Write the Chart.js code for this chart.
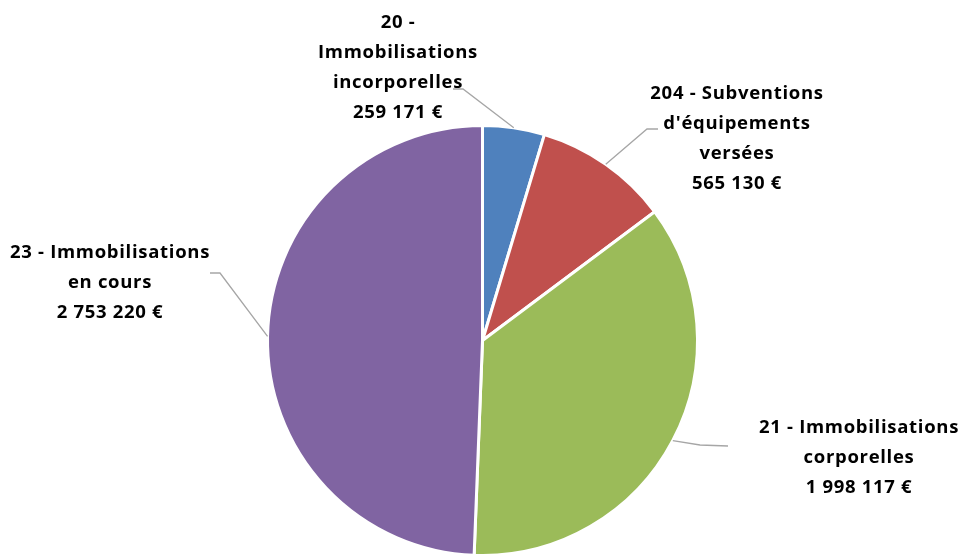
<!DOCTYPE html>
<html>
<head>
<meta charset="utf-8">
<script src="https://cdn.jsdelivr.net/npm/chart.js@4/dist/chart.umd.min.js"></script>
<style>
html,body{margin:0;padding:0;background:#fff;overflow:hidden;}
#wrap{width:963px;height:554px;position:relative;overflow:hidden;}
</style>
</head>
<body>
<div id="wrap"><canvas id="c" width="963" height="560"></canvas></div>
<script>
const categories = [
  ["20 -", "Immobilisations", "incorporelles"],
  ["204 - Subventions", "d'équipements", "versées"],
  ["21 - Immobilisations", "corporelles"],
  ["23 - Immobilisations", "en cours"]
];
const values = [259171, 565130, 1998117, 2753220];
const valueLabels = ["259 171 €", "565 130 €", "1 998 117 €", "2 753 220 €"];
const colors = ["#4F81BD", "#C0504D", "#9BBB59", "#8064A2"];

// label layout: text centre x, first line y; leader elbow and end
const labelLayout = [
  {x: 398, y: 23, elbow: [463, 89], end: [453, 89]},
  {x: 737, y: 94, elbow: [647, 129], end: [658, 129]},
  {x: 859, y: 428, elbow: [700, 445], end: [728, 446]},
  {x: 110, y: 253, elbow: [220, 273], end: [210, 273]}
];
const lineHeight = 30;

const labelPlugin = {
  id: 'outLabels',
  afterDatasetsDraw(chart) {
    const ctx = chart.ctx;
    const meta = chart.getDatasetMeta(0);
    ctx.save();
    meta.data.forEach((arc, i) => {
      const p = arc.getProps(['x','y','startAngle','endAngle','outerRadius'], true);
      const mid = (p.startAngle + p.endAngle) / 2;
      const ax = p.x + Math.cos(mid) * p.outerRadius;
      const ay = p.y + Math.sin(mid) * p.outerRadius;
      const L = labelLayout[i];
      ctx.strokeStyle = '#A6A6A6';
      ctx.lineWidth = 1.3;
      ctx.beginPath();
      ctx.moveTo(ax, ay);
      ctx.lineTo(L.elbow[0], L.elbow[1]);
      ctx.lineTo(L.end[0], L.end[1]);
      ctx.stroke();
      const lines = categories[i].concat([valueLabels[i]]);
      ctx.fillStyle = '#000';
      ctx.font = 'bold 18.5px "Open Sans", "Liberation Sans", Arial, sans-serif';
      ctx.letterSpacing = '0.7px';
      ctx.textAlign = 'center';
      ctx.textBaseline = 'middle';
      lines.forEach((t, k) => {
        ctx.fillText(t, L.x, L.y + k * lineHeight);
      });
    });
    ctx.restore();
  }
};

new Chart(document.getElementById('c'), {
  type: 'pie',
  data: {
    labels: categories.map(c => c.join(' ')),
    datasets: [{
      data: values,
      backgroundColor: colors,
      borderColor: '#FFFFFF',
      borderWidth: 3
    }]
  },
  options: {
    responsive: false,
    animation: false,
    layout: {padding: {top: 124, bottom: 3, left: 266, right: 264}},
    plugins: {legend: {display: false}, tooltip: {enabled: false}}
  },
  plugins: [labelPlugin]
});
</script>
</body>
</html>
